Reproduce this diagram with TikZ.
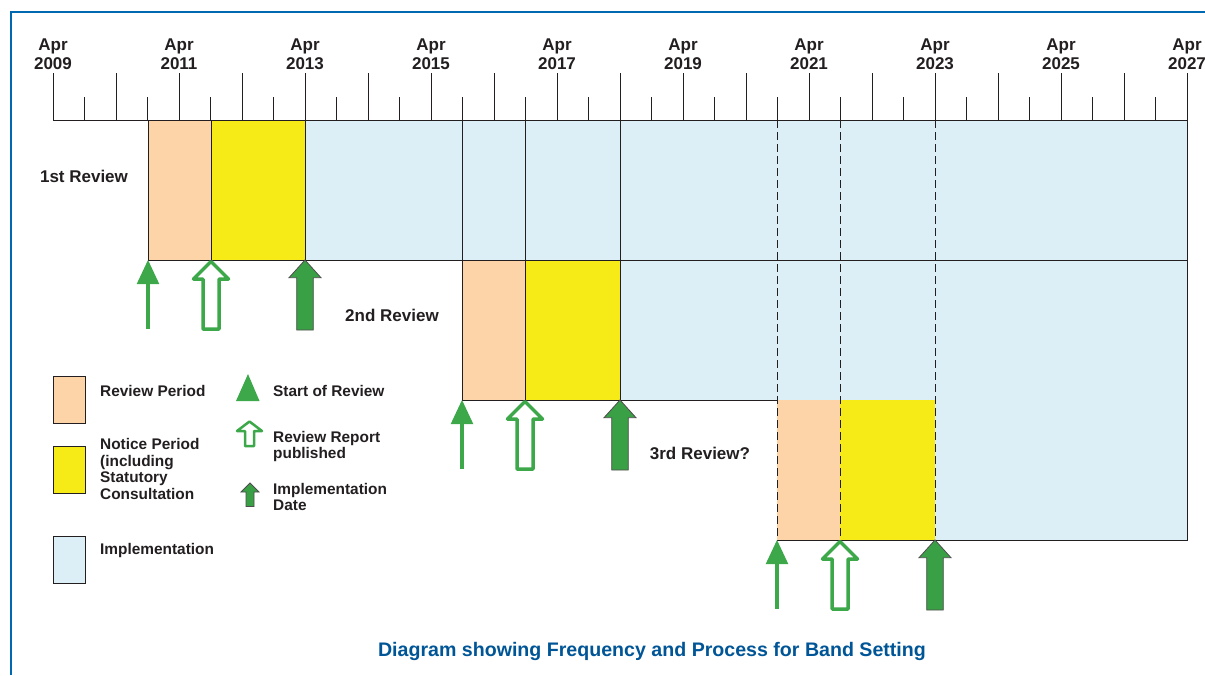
\documentclass[tikz,border=0pt]{standalone}
\usepackage{fontspec}
\setmainfont{Liberation Sans}
\usepackage{tikz}
\usetikzlibrary{arrows.meta}

\definecolor{framebl}{RGB}{0,103,177}
\definecolor{capbl}{RGB}{0,85,150}
\definecolor{txt}{RGB}{35,31,32}
\definecolor{revcol}{RGB}{252,212,168}
\definecolor{notcol}{RGB}{246,235,22}
\definecolor{impcol}{RGB}{220,238,246}
\definecolor{arrgreen}{RGB}{61,168,74}
\definecolor{impgreen}{RGB}{58,160,70}

\tikzset{
  lbl/.style={font=\bfseries\fontsize{17}{18.5}\selectfont, text=txt, inner sep=0pt},
  leg/.style={font=\bfseries\fontsize{15.4}{16.7}\selectfont, text=txt, align=left, anchor=west, inner sep=0pt},
  period/.style={draw=txt, line width=1pt},
  gridline/.style={draw=txt, line width=1pt},
  cutline/.style={draw=txt, line width=1pt, dash pattern=on 8pt off 4pt},
  pics/startarr/.style={code={
    \fill[arrgreen] (-11.3,24) -- (0,0) -- (11.3,24) -- cycle;
    \draw[arrgreen, line width=4pt] (0,23) -- (0,69);}},
  pics/reparr/.style={code={
    \draw[arrgreen, fill=white, line width=3.5pt, line join=round]
      (0,1.5) -- (17.5,19) -- (8,19) -- (8,69) -- (-8,69) -- (-8,19) -- (-17.5,19) -- cycle;}},
  pics/imparr/.style={code={
    \draw[impgreen, fill=impgreen, draw=txt!80, line width=0.8pt]
      (0,0) -- (16,17.7) -- (8.3,17.7) -- (8.3,70) -- (-8.3,70) -- (-8.3,17.7) -- (-16,17.7) -- cycle;}}
}

\begin{document}
\begin{tikzpicture}[x=1pt, y=-1pt]
  \useasboundingbox (0,0) rectangle (1205,675);
  \draw[framebl, line width=1.5pt] (11,675) -- (11,12) -- (1205,12);

  % time axis
  \draw[gridline] (53,120) -- (1187,120);
  \foreach \i in {0,...,18} \draw[gridline] ({53+63*\i},120) -- ({53+63*\i},73);
  \foreach \i in {0,...,17} \draw[gridline] ({84.5+63*\i},120) -- ({84.5+63*\i},97);
  \foreach \i [evaluate=\i as \yr using int(2009+2*\i)] in {0,...,9}
    \node[lbl, align=center, anchor=north] (yr\i) at ({53+126*\i},39) {Apr\\\yr};

  % 1st review
  \draw[period, fill=revcol] (148,120) rectangle (211,260);
  \draw[period, fill=notcol] (211,120) rectangle (305,260);
  \draw[period, fill=impcol] (305,120) rectangle (1187,260);
  \foreach \x in {462, 525, 620} \draw[gridline] (\x,120) -- (\x,260);

  % 2nd review
  \draw[period, fill=revcol] (462,260) rectangle (525,400);
  \draw[period, fill=notcol] (525,260) rectangle (620,400);
  \draw[period, fill=impcol] (620,260) rectangle (1187,400);

  % 3rd review
  \fill[revcol] (777,400) rectangle (840,540);
  \fill[notcol] (840,400) rectangle (935,540);
  \fill[impcol] (935,400) rectangle (1187,540);
  \draw[gridline] (777,540) -- (1187,540) -- (1187,400);
  \foreach \x in {777, 840, 935} \draw[cutline] (\x,120) -- (\x,540);

  \node[lbl] (first) at (84,176) {1st Review};
  \node[lbl] (second) at (392,315) {2nd Review};
  \node[lbl] (third) at (700,453) {3rd Review?};

  % milestones
  \foreach \a/\b/\c/\y in {148/211/305/260, 462/525/620/400, 777/840/935/540} {
    \pic at (\a,\y) {startarr};
    \pic at (\b,\y) {reparr};
    \pic at (\c,\y) {imparr};
  }

  % legend
  \draw[period, fill=revcol] (53,376) rectangle (85,423);
  \draw[period, fill=notcol] (53,446) rectangle (85,493);
  \draw[period, fill=impcol] (53,536) rectangle (85,583);
  \node[leg] (lgrev) at (100,391) {Review Period};
  \node[leg] (lgnot) at (100,469) {Notice Period\\(including\\Statutory\\Consultation};
  \node[leg] (lgimp) at (100,551) {Implementation};

  \fill[arrgreen] (236,401) -- (248,374) -- (259.5,401) -- cycle;
  \draw[arrgreen, fill=white, line width=2.5pt, line join=round]
    (249.5,421.5) -- (262,431) -- (254,431) -- (254,446) -- (245,446) -- (245,431) -- (237,431) -- cycle;
  \draw[impgreen, fill=impgreen, draw=txt!80, line width=0.8pt]
    (250,483) -- (259,492) -- (254,492) -- (254,506.5) -- (246,506.5) -- (246,492) -- (241,492) -- cycle;
  \node[leg] (lgstart) at (273,391) {Start of Review};
  \node[leg] (lgrep) at (273,446.5) {Review Report\\published};
  \node[leg] (lgdate) at (273,497) {Implementation\\Date};

  \node[font=\bfseries\fontsize{19.6}{21}\selectfont, text=capbl, inner sep=0pt] (caption) at (652,651)
    {Diagram showing Frequency and Process for Band Setting};
\end{tikzpicture}
\end{document}
